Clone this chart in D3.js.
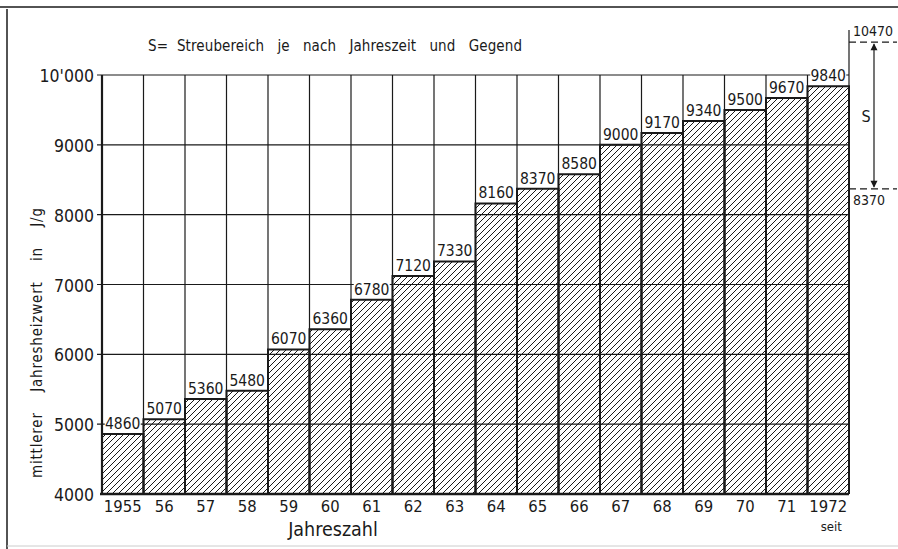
<!DOCTYPE html>
<html>
<head>
<meta charset="utf-8">
<script src="https://cdn.jsdelivr.net/npm/d3@7"></script>
<style>
  body { margin: 0; background: #fff; }
  svg { display: block; font-family: "DejaVu Sans Condensed", "DejaVu Sans", sans-serif; font-stretch: condensed; }
</style>
</head>
<body>
<svg id="chart" width="898" height="549"></svg>
<script>
const years = ['1955', '56', '57', '58', '59', '60', '61', '62', '63', '64', '65', '66', '67', '68', '69', '70', '71', '1972'];
const values = [4860, 5070, 5360, 5480, 6070, 6360, 6780, 7120, 7330, 8160, 8370, 8580, 9000, 9170, 9340, 9500, 9670, 9840];
const yTicks = [4000, 5000, 6000, 7000, 8000, 9000, 10000];
const yTickLabels = ['4000', '5000', '6000', '7000', '8000', '9000', "10'000"];
const rangeLow = 8370;
const rangeHigh = 10470;

const svg = d3.select('#chart');
const ink = '#1a1a1a';

const x = d3.scaleBand()
    .domain(years)
    .range([102, 849])
    .padding(0);

const y = d3.scaleLinear()
    .domain([4000, 10000])
    .range([494, 75]);

// hatch pattern
const defs = svg.append('defs');
const pat = defs.append('pattern')
    .attr('id', 'hatch')
    .attr('patternUnits', 'userSpaceOnUse')
    .attr('width', 6)
    .attr('height', 6);
pat.append('path')
    .attr('d', 'M0,6 L6,0 M-1,1 L1,-1 M5,7 L7,5')
    .attr('stroke', ink)
    .attr('stroke-width', 1);

// frame of the page
svg.append('line').attr('x1', 0).attr('x2', 898).attr('y1', 7).attr('y2', 7)
    .attr('stroke', ink).attr('stroke-width', 1.5);
svg.append('line').attr('x1', 7).attr('x2', 7).attr('y1', 9).attr('y2', 549)
    .attr('stroke', ink).attr('stroke-width', 1.5);
svg.append('line').attr('x1', 7).attr('x2', 898).attr('y1', 546).attr('y2', 546)
    .attr('stroke', '#ccc').attr('stroke-width', 1);

// note
svg.append('text')
    .attr('x', 148).attr('y', 51)
    .attr('font-size', 15)
    .attr('fill', ink)
    .attr('xml:space', 'preserve')
    .attr('textLength', 374)
    .attr('lengthAdjust', 'spacing')
    .text('S=  Streubereich   je   nach   Jahreszeit   und   Gegend');

// bars
svg.selectAll('.bar')
    .data(values)
    .enter().append('rect')
    .attr('class', 'bar')
    .attr('x', (d, i) => x(years[i]))
    .attr('y', d => y(d))
    .attr('width', x.bandwidth())
    .attr('height', d => y(4000) - y(d))
    .attr('fill', 'url(#hatch)');

// horizontal grid
svg.append('g')
    .selectAll('line')
    .data(yTicks.slice(1))
    .enter().append('line')
    .attr('x1', 97).attr('x2', 849)
    .attr('y1', d => y(d)).attr('y2', d => y(d))
    .attr('stroke', ink).attr('stroke-width', 1.2);

// vertical grid / bar edges
const edges = years.map(d => x(d)).concat([x.range()[1]]);
svg.append('g')
    .selectAll('line')
    .data(edges)
    .enter().append('line')
    .attr('x1', d => d).attr('x2', d => d)
    .attr('y1', (d, i) => i === edges.length - 1 ? 30 : y(10000))
    .attr('y2', y(4000))
    .attr('stroke', ink)
    .attr('stroke-width', (d, i) => i === 0 ? 2.2 : 1.2);

// bar outlines
svg.selectAll('.outline')
    .data(values)
    .enter().append('path')
    .attr('class', 'outline')
    .attr('d', (d, i) => {
        const x0 = x(years[i]), x1 = x0 + x.bandwidth();
        return `M${x0},${y(4000)} L${x0},${y(d)} L${x1},${y(d)} L${x1},${y(4000)}`;
    })
    .attr('fill', 'none')
    .attr('stroke', ink)
    .attr('stroke-width', 2);

// baseline
svg.append('line')
    .attr('x1', 100).attr('x2', 849)
    .attr('y1', y(4000)).attr('y2', y(4000))
    .attr('stroke', ink).attr('stroke-width', 2.4);

// value labels
const labels = svg.selectAll('.val')
    .data(values)
    .enter().append('g')
    .attr('class', 'val');
labels.append('rect')
    .attr('x', (d, i) => x(years[i]) + x.bandwidth() / 2 - 18)
    .attr('y', d => y(d) - 19)
    .attr('width', 36)
    .attr('height', 16)
    .attr('fill', '#fff');
labels.append('text')
    .attr('x', (d, i) => x(years[i]) + x.bandwidth() / 2)
    .attr('y', d => y(d) - 5)
    .attr('text-anchor', 'middle')
    .attr('font-size', 15.5)
    .attr('fill', ink)
    .text(d => d);

// y axis labels
svg.append('g')
    .selectAll('text')
    .data(yTicks)
    .enter().append('text')
    .attr('x', 94)
    .attr('y', d => y(d) + 7)
    .attr('text-anchor', 'end')
    .attr('font-size', 17.5)
    .attr('fill', ink)
    .text((d, i) => yTickLabels[i]);

svg.append('text')
    .attr('transform', 'translate(42,343) rotate(-90)')
    .attr('text-anchor', 'middle')
    .attr('font-size', 15)
    .attr('fill', ink)
    .attr('xml:space', 'preserve')
    .attr('textLength', 270)
    .attr('lengthAdjust', 'spacing')
    .text('mittlerer    Jahresheizwert    in    J/g');

// x labels
svg.append('g')
    .selectAll('text')
    .data(years)
    .enter().append('text')
    .attr('x', d => x(d) + x.bandwidth() / 2)
    .attr('y', 512)
    .attr('text-anchor', 'middle')
    .attr('font-size', 16.5)
    .attr('fill', ink)
    .text(d => d);

svg.append('text')
    .attr('x', x('1972') + x.bandwidth() / 2 + 3)
    .attr('y', 531)
    .attr('text-anchor', 'middle')
    .attr('font-size', 13)
    .attr('fill', ink)
    .text('seit');

svg.append('text')
    .attr('x', 333).attr('y', 536)
    .attr('text-anchor', 'middle')
    .attr('font-size', 19.5)
    .attr('fill', ink)
    .text('Jahreszahl');

// scatter range S
[rangeHigh, rangeLow].forEach(v => {
    svg.append('line')
        .attr('x1', 849).attr('x2', 897)
        .attr('y1', y(v)).attr('y2', y(v))
        .attr('stroke', ink).attr('stroke-width', 1.2)
        .attr('stroke-dasharray', '7,4');
});
svg.append('text')
    .attr('x', 853).attr('y', y(rangeHigh) - 6)
    .attr('font-size', 14).attr('fill', ink)
    .text(rangeHigh);
svg.append('text')
    .attr('x', 853).attr('y', y(rangeLow) + 16)
    .attr('font-size', 14).attr('fill', ink)
    .text(rangeLow);

const ax = 874;
svg.append('line')
    .attr('x1', ax).attr('x2', ax)
    .attr('y1', y(rangeHigh) + 2).attr('y2', y(rangeLow) - 2)
    .attr('stroke', ink).attr('stroke-width', 1.2);
svg.append('path')
    .attr('d', `M${ax},${y(rangeHigh) + 1} l-3.5,7 l7,0 Z M${ax},${y(rangeLow) - 1} l-3.5,-7 l7,0 Z`)
    .attr('fill', ink);
svg.append('text')
    .attr('x', 866).attr('y', (y(rangeHigh) + y(rangeLow)) / 2 + 6)
    .attr('text-anchor', 'middle')
    .attr('font-size', 16).attr('fill', ink)
    .text('S');
</script>
</body>
</html>
